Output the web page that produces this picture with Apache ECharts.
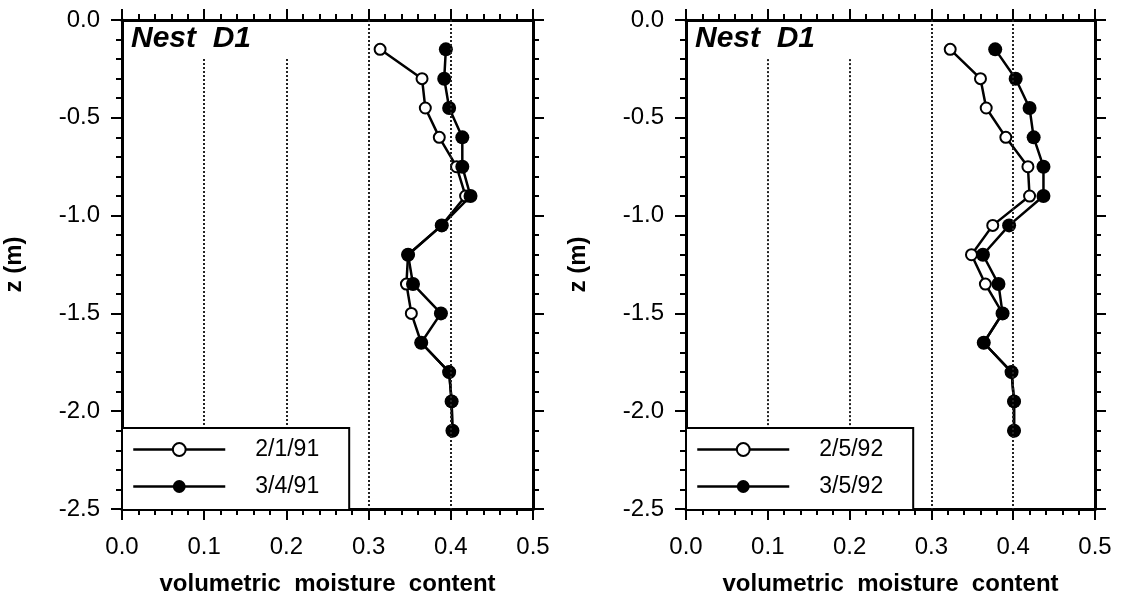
<!DOCTYPE html>
<html>
<head>
<meta charset="utf-8">
<script src="https://cdn.jsdelivr.net/npm/echarts@6/dist/echarts.min.js"></script>
<style>
  html, body { margin: 0; padding: 0; background: #fff; }
  #chart { width: 1121px; height: 601px; }
</style>
</head>
<body>
<div id="chart"></div>
<script>
// depths of the probe readings (m)
const depth = [-0.15, -0.30, -0.45, -0.60, -0.75, -0.90, -1.05, -1.20, -1.35, -1.50, -1.65, -1.80, -1.95, -2.10];

// volumetric moisture content, nest D1
const feb91 = [0.314, 0.365, 0.369, 0.386, 0.407, 0.418, 0.389, 0.348, 0.346, 0.352, 0.364, 0.398, 0.401, 0.402];
const mar91 = [0.394, 0.392, 0.398, 0.414, 0.414, 0.424, 0.389, 0.348, 0.354, 0.388, 0.364, 0.398, 0.401, 0.402];
const feb92 = [0.323, 0.360, 0.367, 0.391, 0.418, 0.420, 0.375, 0.349, 0.366, 0.387, 0.364, 0.398, 0.401, 0.401];
const mar92 = [0.378, 0.403, 0.420, 0.425, 0.437, 0.437, 0.395, 0.363, 0.382, 0.387, 0.364, 0.398, 0.401, 0.401];

const leftNames = ["2/1/91", "3/4/91"];
const rightNames = ["2/5/92", "3/5/92"];

// dotted reference lines: x value and where they start (top)
const refX = [0.1, 0.2, 0.3, 0.4];
const refTop = [-0.2, -0.2, 0, 0];

const FONT = "'Liberation Sans', Arial, Helvetica, sans-serif";

const chart = echarts.init(document.getElementById("chart"));

function axisBase(extra) {
  return Object.assign({
    type: "value",
    axisLine: { show: true, onZero: false, lineStyle: { color: "#000", width: 3 } },
    axisTick: { show: true, length: 11, lineStyle: { color: "#000", width: 2 } },
    minorTick: { show: true, splitNumber: 5, length: 6, lineStyle: { color: "#000", width: 2 } },
    splitLine: { show: false },
    axisLabel: { show: false },
  }, extra);
}

function xBottom(gridIndex) {
  return axisBase({
    gridIndex, position: "bottom", min: 0, max: 0.5, interval: 0.1,
    axisLabel: { show: true, margin: 26, fontSize: 24, fontFamily: FONT, color: "#000",
      formatter: (v) => v.toFixed(1) },
    name: "volumetric  moisture  content",
    nameLocation: "middle",
    nameGap: 63,
    nameTextStyle: { fontSize: 24, fontWeight: "bold", fontFamily: FONT, color: "#000" },
  });
}

function xTop(gridIndex) {
  return axisBase({ gridIndex, position: "top", min: 0, max: 0.5, interval: 0.1 });
}

function yLeft(gridIndex) {
  return axisBase({
    gridIndex, position: "left", min: -2.5, max: 0, interval: 0.5,
    axisLabel: { show: true, margin: 22, fontSize: 24, fontFamily: FONT, color: "#000",
      formatter: (v) => v.toFixed(1) },
    name: "z (m)",
    nameLocation: "middle",
    nameGap: 96,
    nameTextStyle: { fontSize: 24, fontWeight: "bold", fontFamily: FONT, color: "#000" },
  });
}

function yRight(gridIndex) {
  return axisBase({ gridIndex, position: "right", min: -2.5, max: 0, interval: 0.5 });
}

function refLines() {
  return {
    silent: true,
    symbol: "none",
    label: { show: false },
    lineStyle: { color: "#222", type: "dotted", width: 2 },
    data: refX.map((x, i) => [{ coord: [x, refTop[i]] }, { coord: [x, -2.5] }]),
  };
}

function profile(name, values, idx, open) {
  const s = {
    name,
    type: "line",
    xAxisIndex: idx,
    yAxisIndex: idx,
    data: values.map((v, i) => [v, depth[i]]),
    symbol: "circle",
    symbolSize: open ? 11 : 14,
    lineStyle: { color: "#000", width: 2.5 },
    itemStyle: open
      ? { color: "#fff", borderColor: "#000", borderWidth: 2 }
      : { color: "#000", borderColor: "#000", borderWidth: 0 },
    z: open ? 3 : 4,
    silent: true,
    emphasis: { disabled: true },
  };
  if (open) s.markLine = refLines();
  return s;
}

function legendAt(left, names) {
  return {
    data: names,
    left, top: 428,
    orient: "vertical",
    itemWidth: 92, itemHeight: 16, itemGap: 14,
    padding: [10, 30, 12, 10],
    borderColor: "#000", borderWidth: 2,
    backgroundColor: "#fff",
    selectedMode: false,
    z: 10,
    lineStyle: { width: 2.5 },
    textStyle: { fontSize: 23, fontFamily: FONT, color: "#000", padding: [0, 0, 0, 25] },
  };
}

const titleStyle = { fontSize: 30, fontWeight: "bold", fontStyle: "italic", fontFamily: FONT, color: "#000" };

chart.setOption({
  animation: false,
  backgroundColor: "#fff",
  title: [
    { text: "Nest  D1", left: 131, top: 24, padding: 0, textStyle: titleStyle },
    { text: "Nest  D1", left: 695, top: 24, padding: 0, textStyle: titleStyle },
  ],
  grid: [
    { left: 122, right: 588, top: 20, bottom: 87 },
    { left: 686, right: 26, top: 20, bottom: 87 },
  ],
  xAxis: [xBottom(0), xBottom(1), xTop(0), xTop(1)],
  yAxis: [yLeft(0), yLeft(1), yRight(0), yRight(1)],
  legend: [legendAt(122, leftNames), legendAt(686, rightNames)],
  series: [
    profile(leftNames[0], feb91, 0, true),
    profile(leftNames[1], mar91, 0, false),
    profile(rightNames[0], feb92, 1, true),
    profile(rightNames[1], mar92, 1, false),
  ],
});
</script>
</body>
</html>
